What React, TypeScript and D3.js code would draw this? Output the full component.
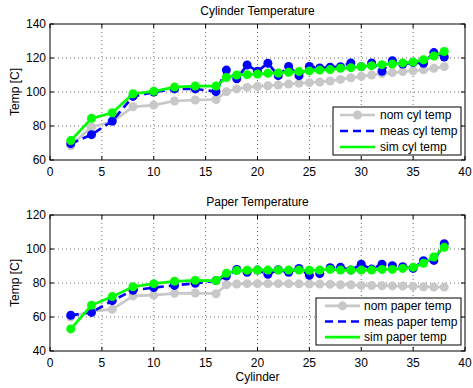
import * as d3 from 'd3';

// cylinder numbers (x)
const cylinders = [2, 4, 6, 8, 10, 12, 14, 16, 17, 18, 19, 20, 21, 22, 23, 24, 25, 26, 27, 28, 29, 30, 31, 32, 33, 34, 35, 36, 37, 38];

// top panel: cylinder temperature
const nomCyl = [68.4, 79.4, 82.5, 91.3, 92.3, 94.7, 95.3, 95.6, 100.2, 101.8, 102.7, 103.3, 103.7, 104.1, 104.7, 105.1, 105.5, 105.9, 106.5, 107.4, 108.4, 109.2, 110.0, 110.8, 111.4, 112.0, 112.5, 113.1, 113.9, 114.9];
const measCyl = [69.6, 74.9, 82.9, 97.4, 100.0, 101.8, 101.8, 100.2, 112.9, 107.8, 115.9, 112.2, 116.9, 109.6, 115.0, 109.6, 115.0, 114.1, 114.6, 114.9, 117.1, 114.9, 117.1, 112.2, 118.4, 116.5, 117.3, 116.9, 123.2, 120.6];
const simCyl = [71.4, 84.5, 87.8, 99.0, 100.4, 102.9, 103.5, 103.5, 108.5, 110.0, 110.2, 110.6, 111.0, 111.2, 111.6, 112.0, 112.4, 112.9, 113.2, 113.9, 114.3, 114.9, 115.5, 116.1, 116.5, 117.1, 117.6, 119.0, 121.2, 123.8];

// bottom panel: paper temperature
const nomPaper = [60.0, 63.5, 64.5, 72.4, 72.9, 73.9, 74.1, 73.7, 79.0, 79.4, 79.6, 79.6, 79.6, 79.6, 79.6, 79.5, 79.4, 79.4, 79.2, 79.0, 78.9, 78.6, 78.5, 78.4, 78.3, 78.2, 78.0, 77.8, 77.6, 77.6];
const measPaper = [61.0, 62.7, 69.6, 75.7, 77.3, 78.6, 79.8, 81.4, 84.1, 88.0, 86.3, 87.6, 85.1, 87.8, 86.3, 88.6, 84.5, 85.5, 89.0, 89.2, 87.6, 91.0, 88.2, 91.0, 90.2, 89.6, 88.6, 93.1, 93.3, 103.1];
const simPaper = [53.0, 66.9, 72.0, 77.8, 79.6, 81.0, 81.6, 81.4, 85.7, 87.3, 87.5, 87.6, 87.6, 87.6, 87.6, 87.6, 87.5, 87.6, 88.0, 87.6, 87.6, 87.6, 87.6, 88.0, 88.0, 88.6, 89.2, 91.6, 95.3, 101.0];

const xTicks = [0, 5, 10, 15, 20, 25, 30, 35, 40];
const cylTicks = [60, 80, 100, 120, 140];
const paperTicks = [40, 60, 80, 100, 120];

const FONT = 'Liberation Sans, Arial, Helvetica, sans-serif';
const GRAY = '#c8c8c8';
const BLUE = '#0000ff';
const GREEN = '#00ff00';

type Series = { name: string; values: number[]; color: string; dash?: string };

function Panel(props: {
  top: number;
  title: string;
  domain: [number, number];
  yTicks: number[];
  series: Series[];
  legend: { x0: number; x1: number; y0: number; y1: number; lineX0: number; lineX1: number; textX: number };
  xLabel?: string;
}) {
  const { top, title, domain, yTicks, series, legend, xLabel } = props;
  const left = 50, right = 465, bottom = top + 136;
  const x = d3.scaleLinear().domain([0, 40]).range([left, right]);
  const y = d3.scaleLinear().domain(domain).range([bottom, top]);
  const line = d3.line<number>().x((_, i) => x(cylinders[i])).y(d => y(d));
  const rowH = (legend.y1 - legend.y0) / 3;

  return (
    <g>
      <rect x={left} y={top} width={right - left} height={bottom - top} fill="white" />
      {/* grid */}
      {xTicks.slice(1, -1).map(t => (
        <line key={'gx' + t} x1={x(t)} x2={x(t)} y1={top} y2={bottom} stroke="#444" strokeWidth={0.8} strokeDasharray="1,3" />
      ))}
      {yTicks.slice(1, -1).map(t => (
        <line key={'gy' + t} x1={left} x2={right} y1={y(t)} y2={y(t)} stroke="#444" strokeWidth={0.8} strokeDasharray="1,3" />
      ))}
      {/* ticks inside, on all sides */}
      {xTicks.map(t => (
        <g key={'tx' + t}>
          <line x1={x(t)} x2={x(t)} y1={bottom} y2={bottom - 4} stroke="black" />
          <line x1={x(t)} x2={x(t)} y1={top} y2={top + 4} stroke="black" />
          <text x={x(t)} y={bottom + 16} textAnchor="middle" fontSize={12} fontFamily={FONT}>{t}</text>
        </g>
      ))}
      {yTicks.map(t => (
        <g key={'ty' + t}>
          <line x1={left} x2={left + 4} y1={y(t)} y2={y(t)} stroke="black" />
          <line x1={right} x2={right - 4} y1={y(t)} y2={y(t)} stroke="black" />
          <text x={left - 4} y={y(t) + 4} textAnchor="end" fontSize={12} fontFamily={FONT}>{t}</text>
        </g>
      ))}
      {/* data */}
      {series.map(s => (
        <g key={s.name}>
          <path d={line(s.values) || ''} fill="none" stroke={s.color} strokeWidth={2.7} strokeDasharray={s.dash} />
          {s.values.map((v, i) => (
            <circle key={i} cx={x(cylinders[i])} cy={y(v)} r={4.5} fill={s.color} />
          ))}
        </g>
      ))}
      <rect x={left} y={top} width={right - left} height={bottom - top} fill="none" stroke="black" strokeWidth={1} />
      <text x={(left + right) / 2} y={top - 9} textAnchor="middle" fontSize={12} fontFamily={FONT}>{title}</text>
      <text transform={`translate(19,${(top + bottom) / 2}) rotate(-90)`} textAnchor="middle" fontSize={12} fontFamily={FONT}>Temp [C]</text>
      {xLabel && (
        <text x={(left + right) / 2} y={bottom + 30} textAnchor="middle" fontSize={12} fontFamily={FONT}>{xLabel}</text>
      )}
      {/* legend */}
      <rect x={legend.x0} y={legend.y0} width={legend.x1 - legend.x0} height={legend.y1 - legend.y0} fill="white" stroke="black" strokeWidth={1} />
      {series.map((s, i) => {
        const cy = legend.y0 + rowH * (i + 0.5);
        const mid = (legend.lineX0 + legend.lineX1) / 2;
        return (
          <g key={'lg' + s.name}>
            <line x1={legend.lineX0} x2={legend.lineX1} y1={cy} y2={cy} stroke={s.color} strokeWidth={2.7} strokeDasharray={s.dash} />
            {s.color === GRAY && <circle cx={mid} cy={cy} r={4.5} fill={s.color} />}
            <text x={legend.textX} y={cy + 4} fontSize={12} fontFamily={FONT}>{s.name}</text>
          </g>
        );
      })}
    </g>
  );
}

export default function App() {
  return (
    <svg width={473} height={388} style={{ position: 'absolute', left: 0, top: 0, background: 'white' }}>
      <Panel
        top={24}
        title="Cylinder Temperature"
        domain={[60, 140]}
        yTicks={cylTicks}
        series={[
          { name: 'nom cyl temp', values: nomCyl, color: GRAY },
          { name: 'meas cyl temp', values: measCyl, color: BLUE, dash: '8,5' },
          { name: 'sim cyl temp', values: simCyl, color: GREEN },
        ]}
        legend={{ x0: 333, x1: 461, y0: 107, y1: 155, lineX0: 340, lineX1: 375, textX: 380 }}
      />
      <Panel
        top={215}
        title="Paper Temperature"
        domain={[40, 120]}
        yTicks={paperTicks}
        series={[
          { name: 'nom paper temp', values: nomPaper, color: GRAY },
          { name: 'meas paper temp', values: measPaper, color: BLUE, dash: '8,5' },
          { name: 'sim paper temp', values: simPaper, color: GREEN },
        ]}
        legend={{ x0: 316, x1: 461, y0: 298, y1: 345, lineX0: 325, lineX1: 360, textX: 364 }}
        xLabel="Cylinder"
      />
    </svg>
  );
}
